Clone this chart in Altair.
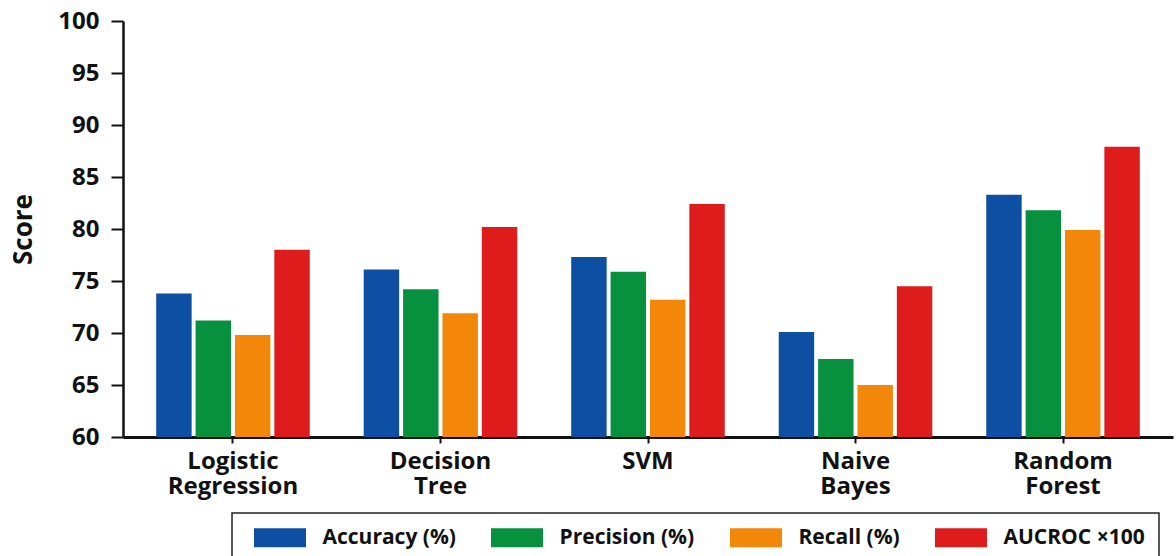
import altair as alt
import pandas as pd

# Model scores per metric
models = ["Logistic Regression", "Decision Tree", "SVM", "Naive Bayes", "Random Forest"]
metrics = ["Accuracy (%)", "Precision (%)", "Recall (%)", "AUCROC ×100"]
accuracy = [73.8, 76.1, 77.3, 70.1, 83.3]
precision = [71.2, 74.2, 75.9, 67.5, 81.8]
recall = [69.8, 71.9, 73.2, 65.0, 79.9]
aucroc = [78.0, 80.2, 82.4, 74.5, 87.9]
colors = ["#0C4FA3", "#07903D", "#F2870A", "#DE1C1C"]

series = [accuracy, precision, recall, aucroc]
rows = []
for metric, values in zip(metrics, series):
    for model, v in zip(models, values):
        rows.append({"Model": model, "Metric": metric, "Score": v})
df = pd.DataFrame(rows)

FONT = "Open Sans"

# wide rectangular legend swatch (unit height, drawn at size 19x19 -> 52x19)
SWATCH = "M-2.737,-1L2.737,-1L2.737,1L-2.737,1Z"

bars = alt.Chart(df).mark_bar().encode(
    x=alt.X(
        "Model:N",
        sort=models,
        scale=alt.Scale(paddingInner=0.26, paddingOuter=0.16),
        axis=alt.Axis(
            title=None,
            labelAngle=0,
            labelExpr="split(datum.label, ' ')",
            labelLineHeight=25,
            labelFont=FONT,
            labelFontSize=24,
            labelFontWeight="bold",
            labelColor="#111111",
            labelPadding=6,
            tickSize=6,
            tickWidth=2,
            tickColor="#111111",
            domainColor="#111111",
            domainWidth=3,
        ),
    ),
    xOffset=alt.XOffset(
        "Metric:N",
        sort=metrics,
        scale=alt.Scale(paddingInner=0.1, paddingOuter=0),
    ),
    y=alt.Y(
        "Score:Q",
        scale=alt.Scale(domain=[60, 100], zero=False, nice=False),
        axis=alt.Axis(
            title="Score",
            values=[60, 65, 70, 75, 80, 85, 90, 95, 100],
            grid=False,
            labelFont=FONT,
            labelFontSize=24,
            labelFontWeight="bold",
            labelColor="#111111",
            labelPadding=12,
            tickSize=12,
            tickWidth=2,
            tickColor="#111111",
            domainColor="#111111",
            domainWidth=2.5,
            titleFont=FONT,
            titleFontSize=26,
            titleFontWeight="bold",
            titleColor="#111111",
            titlePadding=21,
        ),
    ),
    y2=alt.datum(60),
    color=alt.Color(
        "Metric:N",
        sort=metrics,
        scale=alt.Scale(domain=metrics, range=colors),
        legend=alt.Legend(
            title=None,
            orient="none",
            legendX=109,
            legendY=492,
            direction="horizontal",
            columns=4,
            symbolType=SWATCH,
            symbolSize=361,
            symbolOffset=23.5,
            symbolStrokeWidth=0,
            labelFont=FONT,
            labelFontSize=21,
            labelFontWeight="bold",
            labelColor="#111111",
            labelOffset=32,
            labelLimit=400,
            columnPadding=27,
            padding=14,
            strokeColor="#222222",
            fillColor="white",
        ),
    ),
)

chart = (
    bars.properties(
        width=1050,
        height=416,
        padding={"left": 123, "top": 21, "right": 3, "bottom": 119},
        autosize="none",
        background="white",
    )
    .configure_view(strokeWidth=0)
    .configure_legend(strokeWidth=1.5)
)

chart.save("out.html", embed_options={"renderer": "svg", "actions": False})
